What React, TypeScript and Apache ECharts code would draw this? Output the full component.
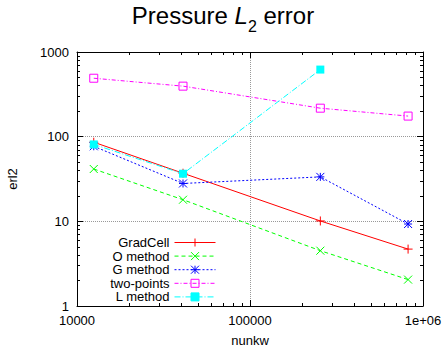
import React, { useEffect, useRef } from "react";
import * as echarts from "echarts";

// ---- data ----
const nunkw = [12500, 41000, 255000, 820000];
const gradCell = [86, 37, 10.1, 4.7];
const oMethod = [41.5, 18, 4.5, 2.05];
const gMethod = [77, 28, 33.5, 9.3];
const twoPoints = [490, 395, 217, 175];
const lMethod = [81, 36.5, 620];

const seriesNames = ["GradCell", "O method", "G method", "two-points", "L method"];

const xMinorTicks = [
  20000, 30000, 40000, 50000, 60000, 70000, 80000, 90000,
  200000, 300000, 400000, 500000, 600000, 700000, 800000, 900000,
];
const yMinorTicks = [
  2, 3, 4, 5, 6, 7, 8, 9,
  20, 30, 40, 50, 60, 70, 80, 90,
  200, 300, 400, 500, 600, 700, 800, 900,
];

const FONT = "'Liberation Sans', Arial, Helvetica, sans-serif";

const PLUS = "path://M0,5L10,5M5,0L5,10";
const CROSS = "path://M0,0L10,10M10,0L0,10";
const STAR = "path://M0,0L10,10M10,0L0,10M5,0L5,10M0,5L10,5";

function pairs(xs: number[], ys: number[]) {
  return ys.map((y, i) => [xs[i], y]);
}

const fmtX = (v: number) => (v >= 999999 ? "1e+06" : String(Math.round(v)));
const fmtY = (v: number) => String(Math.round(v));

export default function App() {
  const ref = useRef<HTMLDivElement>(null);
  useEffect(() => {
    if (!ref.current) return;
    const chart = echarts.init(ref.current, null, { renderer: "svg" });

    const black = "#000";
    const majorTick = { show: true, inside: true, length: 6, lineStyle: { color: black, width: 1 } };
    const minorTickX = { show: true, inside: true, length: 3, customValues: xMinorTicks, lineStyle: { color: black, width: 1 } };
    const minorTickY = { show: true, inside: true, length: 3, customValues: yMinorTicks, lineStyle: { color: black, width: 1 } };
    const gridLine = { show: true, lineStyle: { color: "#999", type: "dotted", width: 1 } };

    const xBase = { type: "log", logBase: 10, min: 10000, max: 1000000, gridIndex: 0 };
    const yBase = { type: "log", logBase: 10, min: 1, max: 1000, gridIndex: 0 };

    const mk = (name: string, color: string, data: number[][], symbol: string, size: number, filled: boolean, dash: any) => ({
      name,
      type: "line",
      data,
      symbol,
      symbolSize: size,
      showSymbol: true,
      lineStyle: { color, width: 1, type: dash },
      itemStyle: filled
        ? { color, borderColor: color, borderWidth: 0 }
        : { color: "rgba(0,0,0,0)", borderColor: color, borderWidth: 1 },
      emphasis: { disabled: true },
      z: 3,
    });

    const legendRows = seriesNames.map((n, i) => ({
      data: [n],
      orient: "horizontal",
      align: "right",
      right: 230,
      top: 236 + i * 13.6,
      itemWidth: 41,
      itemHeight: 10,
      padding: 0,
      selectedMode: false,
      lineStyle: { width: 1 },
      itemStyle: { borderWidth: 1 },
      textStyle: { fontSize: 13, color: black, fontFamily: FONT, lineHeight: 12 },
    }));

    chart.setOption({
      animation: false,
      backgroundColor: "#fff",
      textStyle: { fontFamily: FONT },
      title: {
        text: "{a|Pressure }{i|L}{s|2}{a| error}",
        left: "center",
        top: 3,
        padding: 0,
        textStyle: {
          fontWeight: "normal",
          rich: {
            a: { fontSize: 24, lineHeight: 31, verticalAlign: "top", color: black, fontFamily: FONT, fontWeight: "normal" },
            i: { fontSize: 24, lineHeight: 31, verticalAlign: "top", color: black, fontStyle: "italic", fontFamily: FONT, fontWeight: "normal" },
            s: { fontSize: 16, lineHeight: 18, verticalAlign: "bottom", color: black, fontFamily: FONT, fontWeight: "normal" },
          },
        },
      },
      legend: legendRows,
      grid: { left: 77, right: 23, top: 52, bottom: 41, containLabel: false, outerBoundsMode: "none" },
      xAxis: [
        {
          ...xBase,
          position: "bottom",
          axisLine: { show: true, lineStyle: { color: black, width: 1 } },
          axisTick: majorTick,
          axisLabel: { show: true, fontSize: 13, color: black, margin: 8, fontFamily: FONT, formatter: fmtX },
          splitLine: gridLine,
          name: "nunkw",
          nameLocation: "middle",
          nameGap: 28,
          nameTextStyle: { fontSize: 13, color: black, fontFamily: FONT },
        },
        { ...xBase, position: "bottom", axisLine: { show: false }, axisTick: minorTickX, axisLabel: { show: false }, splitLine: { show: false } },
        { ...xBase, position: "top", axisLine: { show: true, lineStyle: { color: black, width: 1 } }, axisTick: majorTick, axisLabel: { show: false }, splitLine: { show: false } },
        { ...xBase, position: "top", axisLine: { show: false }, axisTick: minorTickX, axisLabel: { show: false }, splitLine: { show: false } },
      ],
      yAxis: [
        {
          ...yBase,
          position: "left",
          axisLine: { show: true, lineStyle: { color: black, width: 1 } },
          axisTick: majorTick,
          axisLabel: { show: true, fontSize: 13, color: black, margin: 8, fontFamily: FONT, formatter: fmtY },
          splitLine: gridLine,
          name: "erl2",
          nameLocation: "middle",
          nameGap: 58,
          nameRotate: 90,
          nameTextStyle: { fontSize: 13, color: black, fontFamily: FONT },
        },
        { ...yBase, position: "left", axisLine: { show: false }, axisTick: minorTickY, axisLabel: { show: false }, splitLine: { show: false } },
        { ...yBase, position: "right", axisLine: { show: true, lineStyle: { color: black, width: 1 } }, axisTick: majorTick, axisLabel: { show: false }, splitLine: { show: false } },
        { ...yBase, position: "right", axisLine: { show: false }, axisTick: minorTickY, axisLabel: { show: false }, splitLine: { show: false } },
      ],
      series: [
        mk("GradCell", "#ff0000", pairs(nunkw, gradCell), PLUS, 9, false, "solid"),
        mk("O method", "#00ff00", pairs(nunkw, oMethod), CROSS, 8, false, [4, 3]),
        mk("G method", "#0000ff", pairs(nunkw, gMethod), STAR, 8, false, [2, 2]),
        mk("two-points", "#ff00ff", pairs(nunkw, twoPoints), "rect", 8, false, [4, 2, 1, 2]),
        mk("L method", "#00ffff", pairs(nunkw, lMethod), "rect", 8, true, [6, 2, 1, 2]),
      ],
    });
    return () => chart.dispose();
  }, []);
  return (
    <div
      ref={ref}
      style={{ position: "fixed", left: 0, top: 0, width: 446, height: 347 }}
    />
  );
}
